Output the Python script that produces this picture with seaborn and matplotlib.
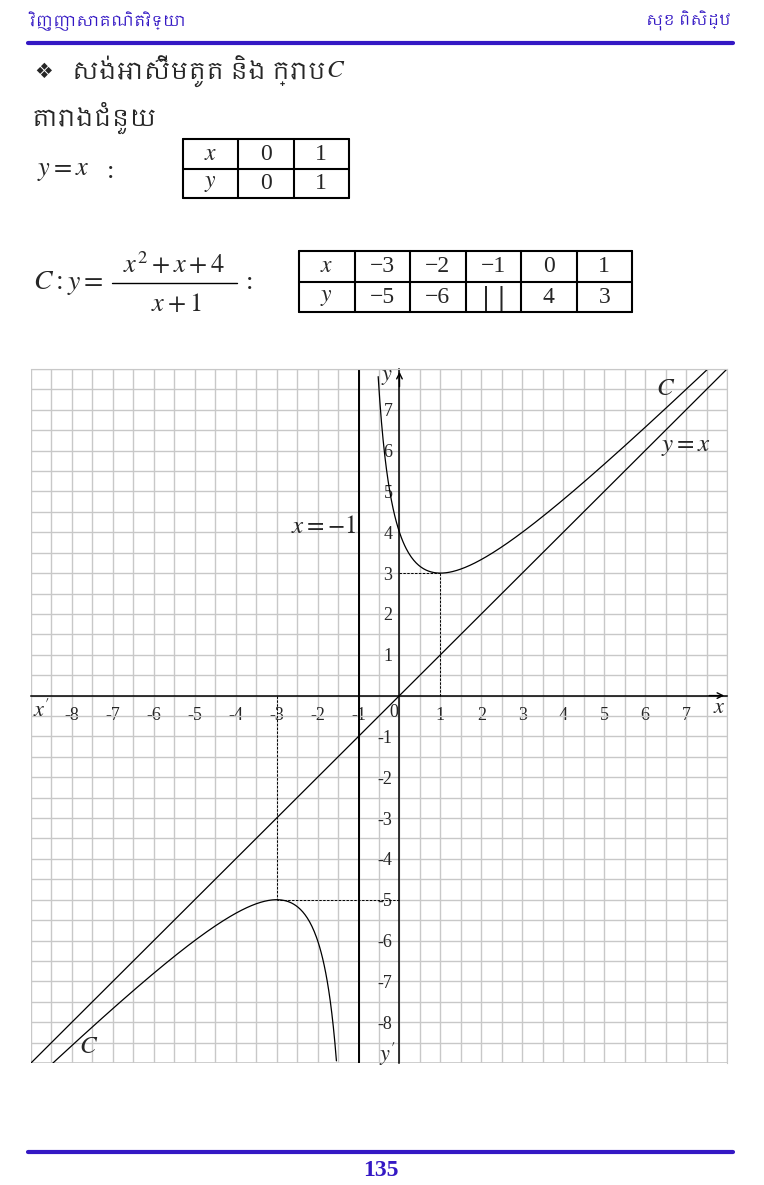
import numpy as np
import pandas as pd
import matplotlib
matplotlib.use("Agg")
import matplotlib.pyplot as plt
from matplotlib.lines import Line2D
from matplotlib import font_manager
import seaborn as sns

# ---------------- data ----------------
header_left = "វិញ្ញាសាគណិតវិទ្យា"
header_right = "សុខ ពិសិដ្ឋ"
heading = "សង់អាស៊ីមតូត និង ក្រាប"
subheading = "តារាងជំនួយ"
page_number = "135"

table1_cols = ["0", "1"]
table1_rows = [r"$x$", r"$y$"]
table1_vals = [["0", "1"], ["0", "1"]]

table2_x = ["−3", "−2", "−1", "0", "1"]
table2_y = ["−5", "−6", "||", "4", "3"]

x_ticks = [-8, -7, -6, -5, -4, -3, -2, -1, 0, 1, 2, 3, 4, 5, 6, 7]
y_ticks = [-8, -7, -6, -5, -4, -3, -2, -1, 1, 2, 3, 4, 5, 6, 7]
x_range = (-9, 8)
y_range = (-9, 8)
asymptote_x = -1
extremum_points = [(1, 3), (-3, -5)]

# curve C : y = (x^2 + x + 4)/(x + 1), as printed on the page
def curve_C(x):
    return (x**2 + x + 4) / (x + 1)

right_branch_x = np.linspace(-0.52, 7.53, 400)
left_branch_x = np.linspace(-9.0, -1.54, 400)
line_x = np.array([-9.0, 8.0])

# ---------------- style ----------------
sns.set_style("white")
plt.rcParams["font.family"] = ["Liberation Serif", "DejaVu Serif"]
plt.rcParams["mathtext.fontset"] = "stix"
plt.rcParams["axes.unicode_minus"] = False

khmer = sorted({f.name for f in font_manager.fontManager.ttflist
                if "khmer" in f.name.lower() or "khmer" in f.fname.lower()})
kfam = ([khmer[0]] if khmer else []) + ["DejaVu Sans"]

W, H = 764, 1185
BLUE = "#3418c4"
fig = plt.figure(figsize=(W / 100, H / 100), dpi=100)

def ft(px, py, s, **kw):
    return fig.text(px / W, 1 - py / H, s, **kw)

# header / footer
ft(30, 21, header_left, family=kfam, fontsize=11, color=BLUE,
   fontweight="bold", va="center", ha="left")
ft(731, 21, header_right, family=kfam, fontsize=11, color=BLUE,
   fontweight="bold", va="center", ha="right")
fig.add_artist(Line2D([28 / W, 733 / W], [1 - 43 / H] * 2, lw=3, color=BLUE))
fig.add_artist(Line2D([28 / W, 733 / W], [1 - 1152 / H] * 2, lw=3, color=BLUE))
ft(381, 1170, page_number, fontsize=17, color=BLUE, fontweight="bold",
   ha="center", va="center")

# headings
ft(34, 72, "❖", family=["DejaVu Sans"], fontsize=15, va="center", ha="left")
ft(72, 72, heading, family=kfam, fontsize=17, va="center", ha="left")
ft(326, 71, r"$C$", fontsize=18, va="center", ha="left")
ft(32, 118, subheading, family=kfam, fontsize=17, va="center", ha="left")

# formulas
ft(37, 172, r"$y = x$", fontsize=19, va="center", ha="left")
ft(107, 172, ":", fontsize=19, va="center", ha="left")
ft(33, 283, r"$C : y =$", fontsize=20, va="center", ha="left")
ft(174, 265, r"$x^2 + x + 4$", fontsize=19, va="center", ha="center")
fig.add_artist(Line2D([112 / W, 237 / W], [1 - 283 / H] * 2, lw=1.0, color="black"))
ft(176, 304, r"$x + 1$", fontsize=19, va="center", ha="center")
ft(246, 283, ":", fontsize=19, va="center", ha="left")

# tables
def draw_table(px0, py0, px1, py1, rows):
    ax_t = fig.add_axes([px0 / W, 1 - py1 / H, (px1 - px0) / W, (py1 - py0) / H])
    ncols = len(rows[0])
    ax_t.set_xlim(0, ncols)
    ax_t.set_ylim(2, 0)
    ax_t.axis("off")
    for i in range(ncols + 1):
        ax_t.axvline(i, color="black", lw=1.5, clip_on=False)
    for j in range(3):
        ax_t.axhline(j, color="black", lw=1.5, clip_on=False)
    for r, row in enumerate(rows):
        for c, s in enumerate(row):
            if s == "||":
                ax_t.text(c + 0.5, r + 0.55, "| |", ha="center", va="center",
                          fontsize=17, family=["DejaVu Sans"])
            else:
                ax_t.text(c + 0.5, r + 0.52, s, ha="center", va="center", fontsize=17)

draw_table(183, 139, 349, 198,
           [[table1_rows[0]] + table1_vals[0], [table1_rows[1]] + table1_vals[1]])
draw_table(299, 251, 632, 312,
           [[r"$x$"] + table2_x, [r"$y$"] + table2_y])

# ---------------- graph ----------------
ax = fig.add_axes([31 / W, (H - 1063) / H, 696 / W, 694 / H])
ax.set_xlim(*x_range)
ax.set_ylim(*y_range)
ax.set_xticks(np.arange(x_range[0], x_range[1] + 0.01, 0.5), minor=True)
ax.set_yticks(np.arange(y_range[0], y_range[1] + 0.01, 0.5), minor=True)
ax.grid(which="both", color="#c8c8c8", lw=1.0)
ax.set_axisbelow(True)

for side in ["top", "right"]:
    ax.spines[side].set_color("#c8c8c8")
ax.spines["left"].set_position(("data", 0))
ax.spines["bottom"].set_position(("data", 0))
ax.spines["left"].set_color("black")
ax.spines["bottom"].set_color("black")
ax.spines["left"].set_linewidth(1.1)
ax.spines["bottom"].set_linewidth(1.1)
ax.add_line(Line2D([0, 0], [0, 1], transform=ax.transAxes, color="#c8c8c8", lw=1.2))
ax.add_line(Line2D([0, 1], [0, 0], transform=ax.transAxes, color="#c8c8c8", lw=1.2))

ax.set_xticks(x_ticks)
ax.set_xticklabels(["" if v == 0 else str(v) for v in x_ticks])
ax.set_yticks(y_ticks)
ax.set_yticklabels([str(v) for v in y_ticks])
ax.tick_params(axis="x", which="major", direction="out", length=7, width=1,
               pad=1, labelsize=13)
ax.tick_params(axis="y", which="major", direction="inout", length=8, width=1,
               pad=1, labelsize=13)
ax.tick_params(which="minor", length=0)
ax.text(-0.15, -0.2, "0", ha="center", va="top", fontsize=13)

# curves
sns.lineplot(x=right_branch_x, y=curve_C(right_branch_x), ax=ax,
             color="black", lw=0.9)
sns.lineplot(x=left_branch_x, y=curve_C(left_branch_x), ax=ax,
             color="black", lw=0.9)
sns.lineplot(x=line_x, y=line_x, ax=ax, color="black", lw=0.9)
ax.axvline(asymptote_x, color="black", lw=1.4)

for (px, py) in extremum_points:
    ax.plot([px, px], [0, py], color="black", lw=0.7, ls=(0, (2.5, 1.5)))
    ax.plot([0, px], [py, py], color="black", lw=0.7, ls=(0, (2.5, 1.5)))

# arrows
ax.annotate("", xy=(8.0, 0), xytext=(7.5, 0),
            arrowprops=dict(arrowstyle="->", lw=1, color="black"),
            annotation_clip=False)
ax.annotate("", xy=(0, 8.0), xytext=(0, 7.5),
            arrowprops=dict(arrowstyle="->", lw=1, color="black"),
            annotation_clip=False)

# labels
ax.text(-0.3, 7.8, r"$y$", fontsize=16, ha="center", va="center")
ax.text(7.82, -0.32, r"$x$", fontsize=16, ha="center", va="center")
ax.text(-8.75, -0.36, r"$x'$", fontsize=16, ha="center", va="center")
ax.text(-0.28, -8.78, r"$y'$", fontsize=16, ha="center", va="center")
ax.text(-1.07, 4.12, r"$x=-1$", fontsize=18, ha="right", va="center")
ax.text(6.5, 7.5, r"$C$", fontsize=18, ha="center", va="center")
ax.text(7.0, 6.1, r"$y = x$", fontsize=18, ha="center", va="center")
ax.text(-7.6, -8.62, r"$C$", fontsize=18, ha="center", va="center")

fig.savefig("out.png", dpi=100)
